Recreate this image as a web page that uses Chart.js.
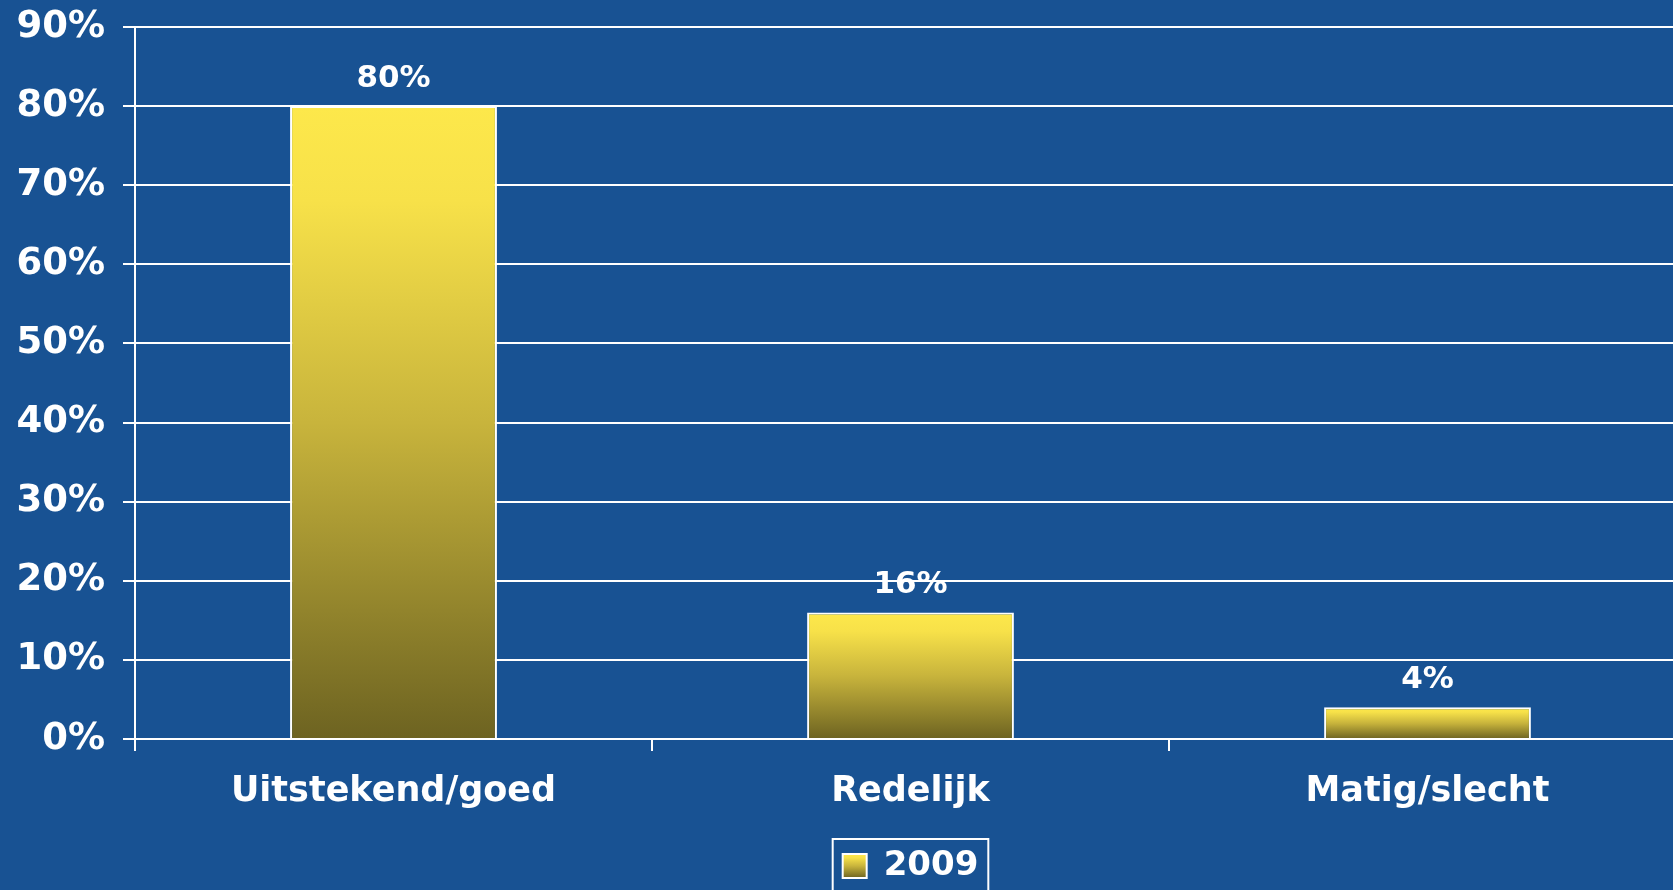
<!DOCTYPE html>
<html>
<head>
<meta charset="utf-8">
<script src="https://cdn.jsdelivr.net/npm/chart.js@4"></script>
<style>
  html, body { margin: 0; padding: 0; overflow: hidden; background: #185293; }
  #wrap { width: 1690px; height: 893px; }
</style>
</head>
<body>
<div id="wrap"><canvas id="tevredenheid" width="1690" height="893"></canvas></div>
<script>
const categories = ['Uitstekend/goed', 'Redelijk', 'Matig/slecht'];
const values2009 = [80, 16, 4];
const seriesLabel = '2009';
const yMax = 90;
const yStep = 10;

const FONT = '"DejaVu Sans", Verdana, sans-serif';

// yellow -> olive, one gradient per bar
function barGradient(c, top, bottom) {
    const g = c.createLinearGradient(0, top, 0, bottom);
    g.addColorStop(0, '#fde84b');
    g.addColorStop(0.15, '#f7e149');
    g.addColorStop(0.5, '#c8b43c');
    g.addColorStop(1, '#6d6321');
    return g;
}

// value labels above the bars
const valueLabels = {
    id: 'valueLabels',
    afterDatasetsDraw(chart) {
        const c = chart.ctx;
        const meta = chart.getDatasetMeta(0);
        c.save();
        c.font = 'bold 31px ' + FONT;
        c.fillStyle = '#ffffff';
        c.textAlign = 'center';
        c.textBaseline = 'alphabetic';
        meta.data.forEach((bar, i) => {
            c.fillText(values2009[i] + '%', bar.x, bar.y - 19);
        });
        c.restore();
    }
};

// white frame round the legend
const legendFrame = {
    id: 'legendFrame',
    afterDraw(chart) {
        const hb = chart.legend && chart.legend.legendHitBoxes && chart.legend.legendHitBoxes[0];
        if (!hb) return;
        const c = chart.ctx;
        c.save();
        c.strokeStyle = '#ffffff';
        c.lineWidth = 2;
        c.strokeRect(hb.left - 10, hb.top - 10, hb.width + 20, hb.height + 40);
        c.restore();
    }
};

const chart = new Chart(document.getElementById('tevredenheid').getContext('2d'), {
    type: 'bar',
    data: {
        labels: categories,
        datasets: [{
            label: seriesLabel,
            data: values2009,
            backgroundColor: (ctx) => {
                const y = ctx.chart.scales.y;
                if (!y || ctx.type !== 'data') return '#fde84b';
                return barGradient(ctx.chart.ctx, y.getPixelForValue(ctx.raw), y.getPixelForValue(0));
            },
            borderColor: '#ffffff',
            borderWidth: 2,
            categoryPercentage: 1,
            barPercentage: 0.4,
        }],
    },
    options: {
        responsive: false,
        devicePixelRatio: 1,
        animation: false,
        layout: { padding: { top: 27, left: 0, right: 4, bottom: 0 } },
        plugins: {
            tooltip: { enabled: false },
            legend: {
                position: 'bottom',
                fullSize: false,
                labels: {
                    color: '#ffffff',
                    font: { family: FONT, size: 34, weight: 'bold' },
                    boxWidth: 24,
                    boxHeight: 24,
                    padding: 10,
                    generateLabels: (ch) => {
                        const lg = ch.legend;
                        const top = lg && lg.top != null ? lg.top + 10 + 5 : 0;
                        return [{
                            text: seriesLabel,
                            fillStyle: barGradient(ch.ctx, top, top + 24),
                            strokeStyle: '#ffffff',
                            lineWidth: 2,
                            fontColor: '#ffffff',
                            datasetIndex: 0,
                        }];
                    },
                },
            },
        },
        scales: {
            x: {
                afterFit: (s) => { s.height = 100; s.paddingLeft = 0; s.paddingRight = 0; },
                grid: {
                    offset: true,
                    drawOnChartArea: false,
                    drawTicks: true,
                    tickLength: 12,
                    color: '#ffffff',
                    lineWidth: 2,
                },
                border: { color: '#ffffff', width: 2 },
                ticks: {
                    color: '#ffffff',
                    padding: 20,
                    maxRotation: 0,
                    font: { family: FONT, size: 35, weight: 'bold' },
                },
            },
            y: {
                min: 0,
                max: yMax,
                afterFit: (s) => { s.width = 135; s.paddingTop = 0; s.paddingBottom = 0; },
                grid: {
                    color: '#ffffff',
                    lineWidth: 2,
                    tickLength: 12,
                },
                border: { color: '#ffffff', width: 2 },
                ticks: {
                    stepSize: yStep,
                    color: '#ffffff',
                    padding: 18,
                    font: { family: FONT, size: 37, weight: 'bold' },
                    callback: (v) => v + '%',
                },
            },
        },
    },
    plugins: [valueLabels, legendFrame],
});
</script>
</body>
</html>
